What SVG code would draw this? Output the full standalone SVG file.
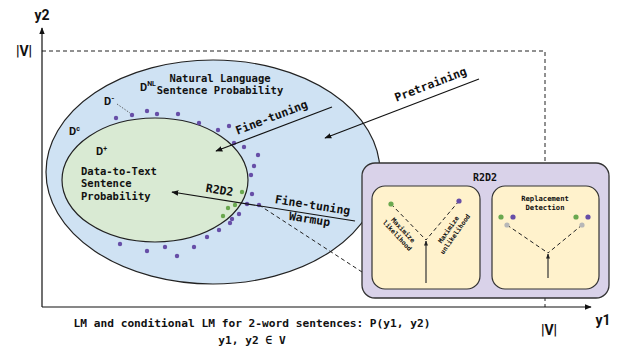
<svg xmlns="http://www.w3.org/2000/svg" width="618" height="349" viewBox="0 0 618 349">
<style>
.mono{font-family:"DejaVu Sans Mono","Liberation Mono",monospace;font-weight:bold;fill:#111}
.sans{font-family:Roboto,"Liberation Sans",sans-serif;font-weight:bold;fill:#111}
.line{stroke:#111;stroke-width:1.2;fill:none}
.dash{stroke:#222;stroke-width:1;stroke-dasharray:4 3;fill:none}
.pd{fill:#674ea7}
.gd{fill:#6aa84f}
.gr{fill:#b7b7b7}
</style>
<defs>
<marker id="arr" viewBox="0 0 10 10" refX="9" refY="5" markerWidth="7" markerHeight="7" markerUnits="userSpaceOnUse" orient="auto"><path d="M0,1 L10,5 L0,9 z" fill="#111"/></marker>
<marker id="arrs" viewBox="0 0 10 10" refX="9" refY="5" markerWidth="5" markerHeight="5" markerUnits="userSpaceOnUse" orient="auto"><path d="M0,1 L10,5 L0,9 z" fill="#222"/></marker>
</defs>
<rect width="618" height="349" fill="#fff"/>

<g id="axes">
<path class="dash" d="M42,51 H545 V307"/>
<line class="line" x1="42" y1="307" x2="42" y2="28" marker-end="url(#arr)"/>
<line class="line" x1="42" y1="307" x2="591" y2="307" marker-end="url(#arr)"/>
<text class="sans" x="42" y="20" font-size="14" text-anchor="middle">y2</text>
<text class="sans" x="24" y="56" font-size="14" text-anchor="middle">|V|</text>
<text class="sans" x="603" y="325" font-size="14" text-anchor="middle">y1</text>
<text class="sans" x="549" y="335" font-size="14" text-anchor="middle">|V|</text>
</g>

<g id="natural-language">
<ellipse cx="213" cy="172" rx="167" ry="112" fill="#cfe2f3" stroke="#222" stroke-width="1.2"/>
<text class="sans" x="140" y="91" font-size="11">D<tspan font-size="7" dy="-5">NL</tspan></text>
<text class="mono" x="220" y="82" font-size="10.5" text-anchor="middle">Natural Language</text>
<text class="mono" x="220" y="94" font-size="10.5" text-anchor="middle">Sentence Probability</text>
<text class="sans" x="104" y="105" font-size="11">D<tspan font-size="8" dy="-4">-</tspan></text>
<text class="sans" x="69" y="135" font-size="11">D<tspan font-size="7" dy="-4">c</tspan></text>
</g>

<g id="data-to-text">
<ellipse cx="155" cy="180" rx="93" ry="62" fill="#d9ead3" stroke="#222" stroke-width="1.2"/>
<text class="sans" x="96" y="155" font-size="11">D<tspan font-size="7" dy="-4">+</tspan></text>
<text class="mono" x="81" y="175" font-size="10.5">Data-to-Text</text>
<text class="mono" x="81" y="187" font-size="10.5">Sentence</text>
<text class="mono" x="81" y="200" font-size="10.5">Probability</text>
</g>

<g id="dots">
<circle class="pd" cx="116" cy="118" r="2.2"/>
<circle class="pd" cx="132" cy="115" r="2.2"/>
<circle class="pd" cx="147" cy="111" r="2.2"/>
<circle class="pd" cx="157" cy="114" r="2.2"/>
<circle class="pd" cx="178" cy="114" r="2.2"/>
<circle class="pd" cx="199" cy="123" r="2.2"/>
<circle class="pd" cx="218" cy="130" r="2.2"/>
<circle class="pd" cx="229" cy="126" r="2.2"/>
<circle class="pd" cx="234" cy="143" r="2.2"/>
<circle class="pd" cx="244" cy="147" r="2.2"/>
<circle class="pd" cx="258" cy="155" r="2.2"/>
<circle class="pd" cx="254" cy="166" r="2.2"/>
<circle class="pd" cx="251" cy="175" r="2.2"/>
<circle class="pd" cx="252" cy="194" r="2.2"/>
<circle class="gd" cx="242" cy="192" r="2.2"/>
<circle class="pd" cx="247" cy="204" r="2.2"/>
<circle class="pd" cx="259" cy="205" r="2.2"/>
<circle class="gd" cx="235" cy="205" r="2.2"/>
<circle class="gd" cx="228" cy="208" r="2.2"/>
<circle class="pd" cx="239" cy="214" r="2.2"/>
<circle class="gd" cx="223" cy="216" r="2.2"/>
<circle class="pd" cx="232" cy="219" r="2.2"/>
<circle class="pd" cx="230" cy="223" r="2.2"/>
<circle class="pd" cx="219" cy="230" r="2.2"/>
<circle class="pd" cx="207" cy="237" r="2.2"/>
<circle class="pd" cx="194" cy="247" r="2.2"/>
<circle class="pd" cx="165" cy="247" r="2.2"/>
<circle class="pd" cx="177" cy="256" r="2.2"/>
<circle class="pd" cx="147" cy="251" r="2.2"/>
<circle class="pd" cx="120" cy="244" r="2.2"/>
</g>

<g id="connectors">
<line x1="117" y1="104" x2="130" y2="113" stroke="#444" stroke-width="0.8" stroke-dasharray="1.5 1.5"/>
<line class="line" x1="479" y1="79" x2="325" y2="138" marker-end="url(#arr)"/>
<line class="line" x1="332" y1="107" x2="216" y2="151" marker-end="url(#arr)"/>
<line class="line" x1="355" y1="221" x2="172" y2="192" marker-end="url(#arr)"/>
<line class="dash" x1="259" y1="205" x2="362" y2="272"/>
<text class="mono" font-size="11.5" text-anchor="middle" transform="translate(432,88) rotate(-21)">Pretraining</text>
<text class="mono" font-size="11.5" text-anchor="middle" transform="translate(273,121) rotate(-21)">Fine-tuning</text>
<text class="mono" font-size="11.5" text-anchor="middle" transform="translate(219,194) rotate(9)">R2D2</text>
<text class="mono" font-size="11.5" text-anchor="middle" transform="translate(312,209) rotate(9)">Fine-tuning</text>
<text class="mono" font-size="11.5" text-anchor="middle" transform="translate(309,223) rotate(9)">Warmup</text>
</g>

<g id="r2d2">
<rect x="362" y="163" width="247" height="135" rx="13" fill="#d9d2e9" stroke="#333" stroke-width="1.3"/>
<text class="mono" x="485" y="181" font-size="10" text-anchor="middle">R2D2</text>
</g>

<g id="likelihood-panel">
<rect x="372" y="186" width="108" height="103" rx="13" fill="#fff2cc" stroke="#333" stroke-width="1.2"/>
<line class="dash" x1="391" y1="204" x2="426" y2="240"/>
<line class="dash" x1="459" y1="201" x2="426" y2="240"/>
<line x1="426" y1="283" x2="426" y2="241" stroke="#333" stroke-width="1.2" marker-end="url(#arrs)"/>
<circle class="gd" cx="391" cy="204" r="2.6"/>
<circle class="pd" cx="459" cy="201" r="2.6"/>
<g transform="translate(400,233) rotate(47)">
<text class="mono" font-size="6.5" text-anchor="middle" y="-2">Maximize</text>
<text class="mono" font-size="6.5" text-anchor="middle" y="6">likelihood</text>
</g>
<g transform="translate(452,232) rotate(-55)">
<text class="mono" font-size="6.5" text-anchor="middle" y="-2">Maximize</text>
<text class="mono" font-size="6.5" text-anchor="middle" y="6">unlikelihood</text>
</g>
</g>

<g id="replacement-panel">
<rect x="492" y="186" width="107" height="103" rx="13" fill="#fff2cc" stroke="#333" stroke-width="1.2"/>
<text class="mono" x="545" y="201" font-size="7.2" text-anchor="middle">Replacement</text>
<text class="mono" x="545" y="210" font-size="7.2" text-anchor="middle">Detection</text>
<line class="dash" x1="507" y1="225" x2="548" y2="253"/>
<line class="dash" x1="582" y1="225" x2="548" y2="253"/>
<line x1="548" y1="278" x2="548" y2="254" stroke="#333" stroke-width="1.2" marker-end="url(#arrs)"/>
<circle class="gd" cx="501" cy="217" r="2.6"/>
<circle class="pd" cx="513" cy="217" r="2.6"/>
<circle class="gr" cx="507" cy="225" r="2.6"/>
<circle class="gd" cx="576" cy="217" r="2.6"/>
<circle class="pd" cx="588" cy="217" r="2.6"/>
<circle class="gr" cx="582" cy="225" r="2.6"/>
</g>

<g id="caption">
<text class="mono" x="252" y="327" font-size="11.2" text-anchor="middle">LM and conditional LM for 2-word sentences: P(y1, y2)</text>
<text class="mono" x="252" y="344" font-size="11.2" text-anchor="middle">y1, y2 ∈ V</text>
</g>
</svg>
